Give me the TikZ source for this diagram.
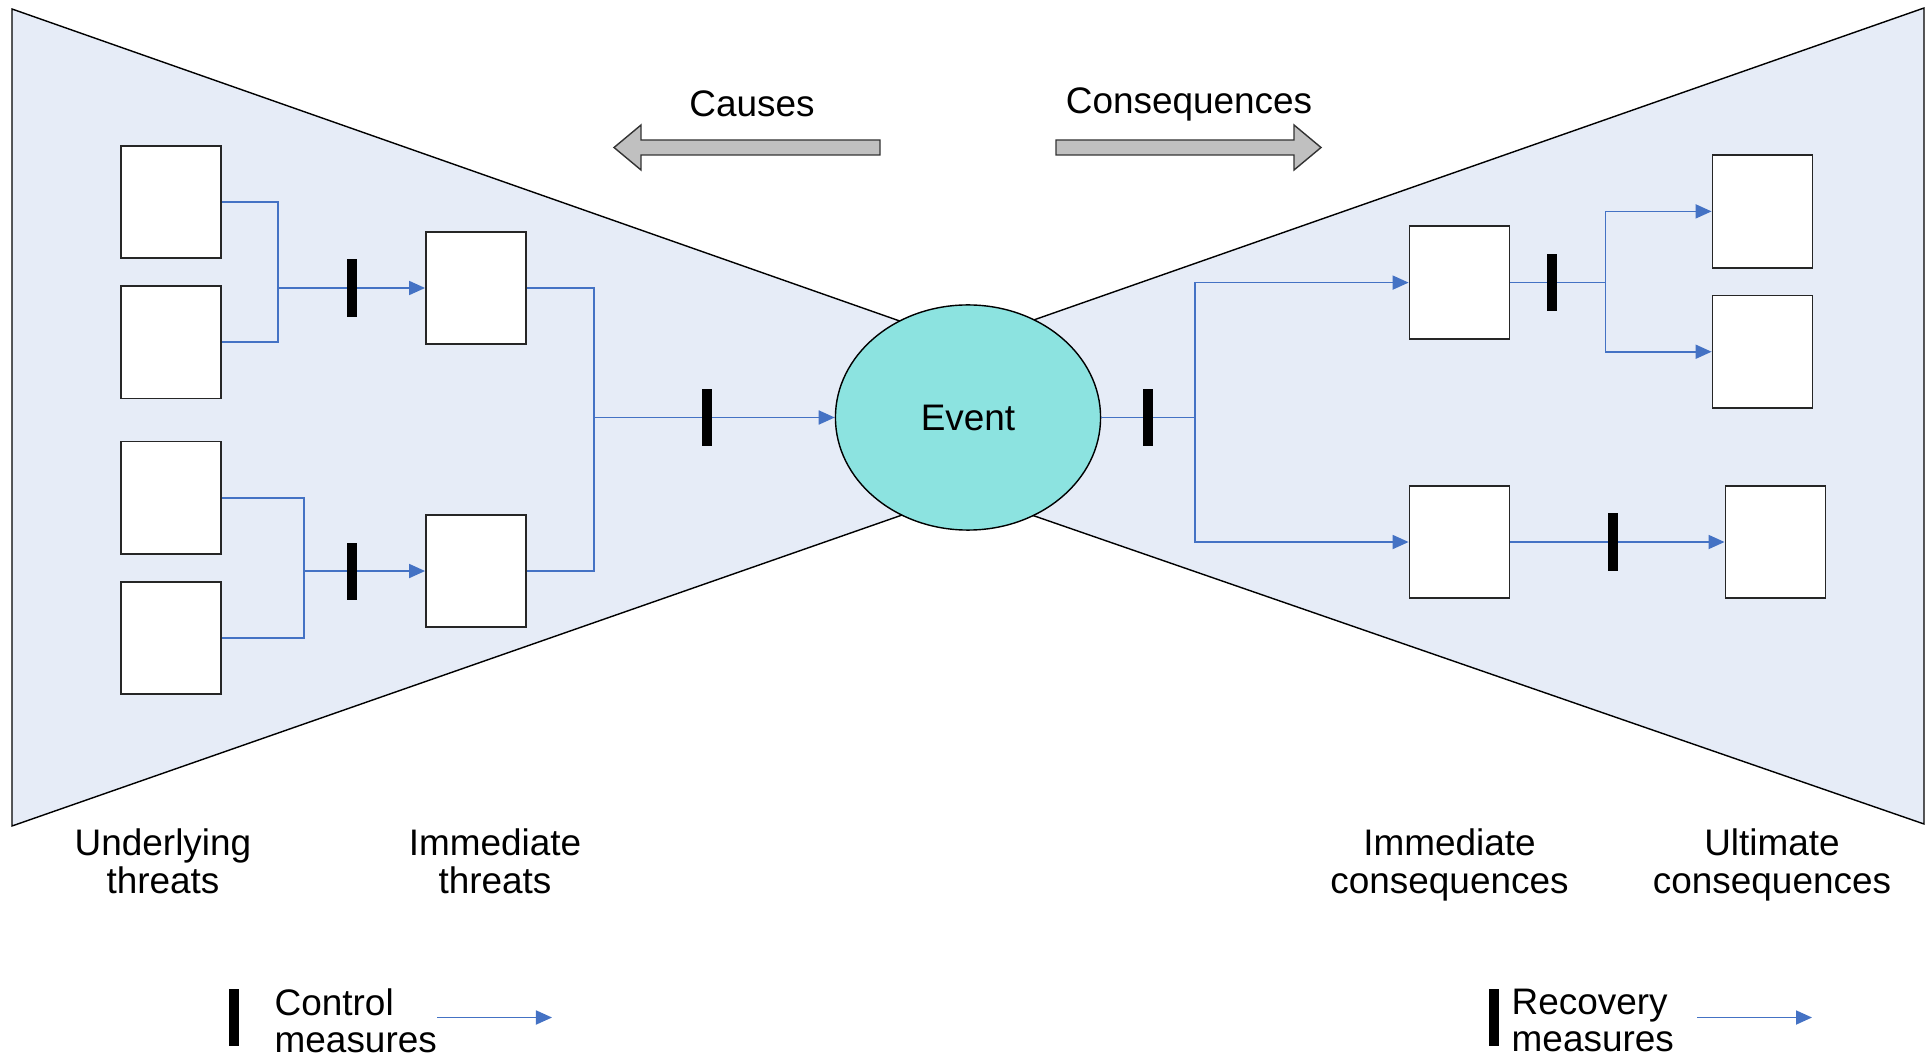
\documentclass[tikz,border=0pt]{standalone}
\usepackage{fontspec}
\setmainfont{Liberation Sans}
\usetikzlibrary{positioning, arrows.meta, shapes.geometric}

\definecolor{bowfill}{HTML}{E6ECF7}
\definecolor{eventfill}{HTML}{8CE3E0}
\definecolor{linkblue}{HTML}{4472C4}
\definecolor{arrowgrey}{HTML}{C0C0C0}

\begin{document}
\begin{tikzpicture}[
    x=0.01cm, y=-0.01cm,
    font=\fontsize{10.5}{10.9}\selectfont,
    % Styles
    bowtie/.style={draw=black, fill=bowfill, line width=0.4pt},
    threatbox/.style={draw=black!85, fill=white, line width=0.5pt, minimum width=1cm, minimum height=1.125cm, inner sep=0pt},
    eventnode/.style={draw=black, fill=eventfill, ellipse, line width=0.4pt, minimum width=2.65cm, minimum height=2.25cm, inner sep=0pt},
    barrier/.style={fill=black, minimum width=0.1cm, minimum height=0.57cm, inner sep=0pt},
    link/.style={linkblue, line width=0.5pt},
    flow/.style={link, -{Triangle[length=1.6mm, width=1.4mm]}},
    bigarrow/.style={draw=black!80, fill=arrowgrey, line width=0.4pt},
    colname/.style={align=center, anchor=north, inner sep=0pt},
    keytext/.style={align=left, anchor=north west, inner sep=0pt, font=\fontsize{10.5}{10.45}\selectfont},
]
\useasboundingbox (0,0) rectangle (1927,1055);

% Bow tie halves
\draw[bowtie] (12,9) -- (968,345) -- (968,492) -- (12,826) -- cycle;
\draw[bowtie] (1924,8) -- (968,343) -- (968,493) -- (1924,824) -- cycle;

% Direction arrows
\draw[bigarrow] (614,147.5) -- (641,125) -- (641,140) -- (880,140) -- (880,155) -- (641,155) -- (641,170) -- cycle;
\draw[bigarrow] (1321,147.5) -- (1294,125) -- (1294,140) -- (1056,140) -- (1056,155) -- (1294,155) -- (1294,170) -- cycle;
\node (causes) at (752,104) {Causes};
\node (conseq) at (1189,104) {Consequences};

% Underlying threats
\node[threatbox] (ut1) at (171,202) {};
\node[threatbox, below=0.26cm of ut1] (ut2) {};
\node[threatbox, below=0.41cm of ut2] (ut3) {};
\node[threatbox, below=0.26cm of ut3] (ut4) {};

% Immediate threats
\node[threatbox] (it1) at (476,288) {};
\node[threatbox, below=1.686cm of it1] (it2) {};

% Event
\node[eventnode] (ev) at (968,417.5) {Event};

% Immediate consequences
\node[threatbox] (ic1) at (1459.5,282.6) {};
\node[threatbox, below=1.45cm of ic1] (ic2) {};

% Ultimate consequences
\node[threatbox] (uc1) at (1762.5,211.4) {};
\node[threatbox, below=0.26cm of uc1] (uc2) {};
\node[threatbox, right=2.14cm of ic2] (uc3) {};

% Junctions
\path (it1.west) ++(-147,0) coordinate (j1);
\path (it2.west) ++(-121,0) coordinate (j2);
\path (ev.west) ++(-240.5,0) coordinate (j3);
\path (ev.east) ++(93.5,0) coordinate (j4);
\path (ic1.east) ++(95,0) coordinate (j5);

% Causes side
\draw[link] (ut1.east) -| (j1) |- (ut2.east);
\draw[flow] (j1) -- node[barrier] (cm1) {} (it1.west);
\draw[link] (ut3.east) -| (j2) |- (ut4.east);
\draw[flow] (j2) -- node[barrier, pos=0.4] (cm2) {} (it2.west);
\draw[link] (it1.east) -| (j3) |- (it2.east);
\draw[flow] (j3) -- node[barrier, pos=0.47] (cm3) {} (ev.west);

% Consequences side
\draw[link] (ev.east) -- node[barrier] (rm1) {} (j4);
\draw[flow] (j4) |- (ic1.west);
\draw[flow] (j4) |- (ic2.west);
\draw[link] (ic1.east) -- node[barrier, pos=0.44] (rm2) {} (j5);
\draw[flow] (j5) |- (uc1.west);
\draw[flow] (j5) |- (uc2.west);
\draw[flow] (ic2.east) -- node[barrier, pos=0.48] (rm3) {} (uc3.west);

% Column labels
\node[colname] (lut) at (163,828) {Underlying\\threats};
\node[colname] (lit) at (495,828) {Immediate\\threats};
\node[colname] (lic) at (1449.5,828) {Immediate\\consequences};
\node[colname] (luc) at (1772,828) {Ultimate\\consequences};

% Legend
\node[barrier] (keycm) at (234,1017.5) {};
\node[keytext] (keycmtext) at (274,988) {Control\\measures};
\coordinate (ka1) at (437,1017.5);
\coordinate (ka2) at (552,1017.5);
\draw[flow] (ka1) -- (ka2);
\node[barrier] (keyrm) at (1494,1017.5) {};
\node[keytext] (keyrmtext) at (1511,988.5) {Recovery\\measures};
\coordinate (kb1) at (1697,1017.5);
\coordinate (kb2) at (1812,1017.5);
\draw[flow] (kb1) -- (kb2);

\end{tikzpicture}
\end{document}
